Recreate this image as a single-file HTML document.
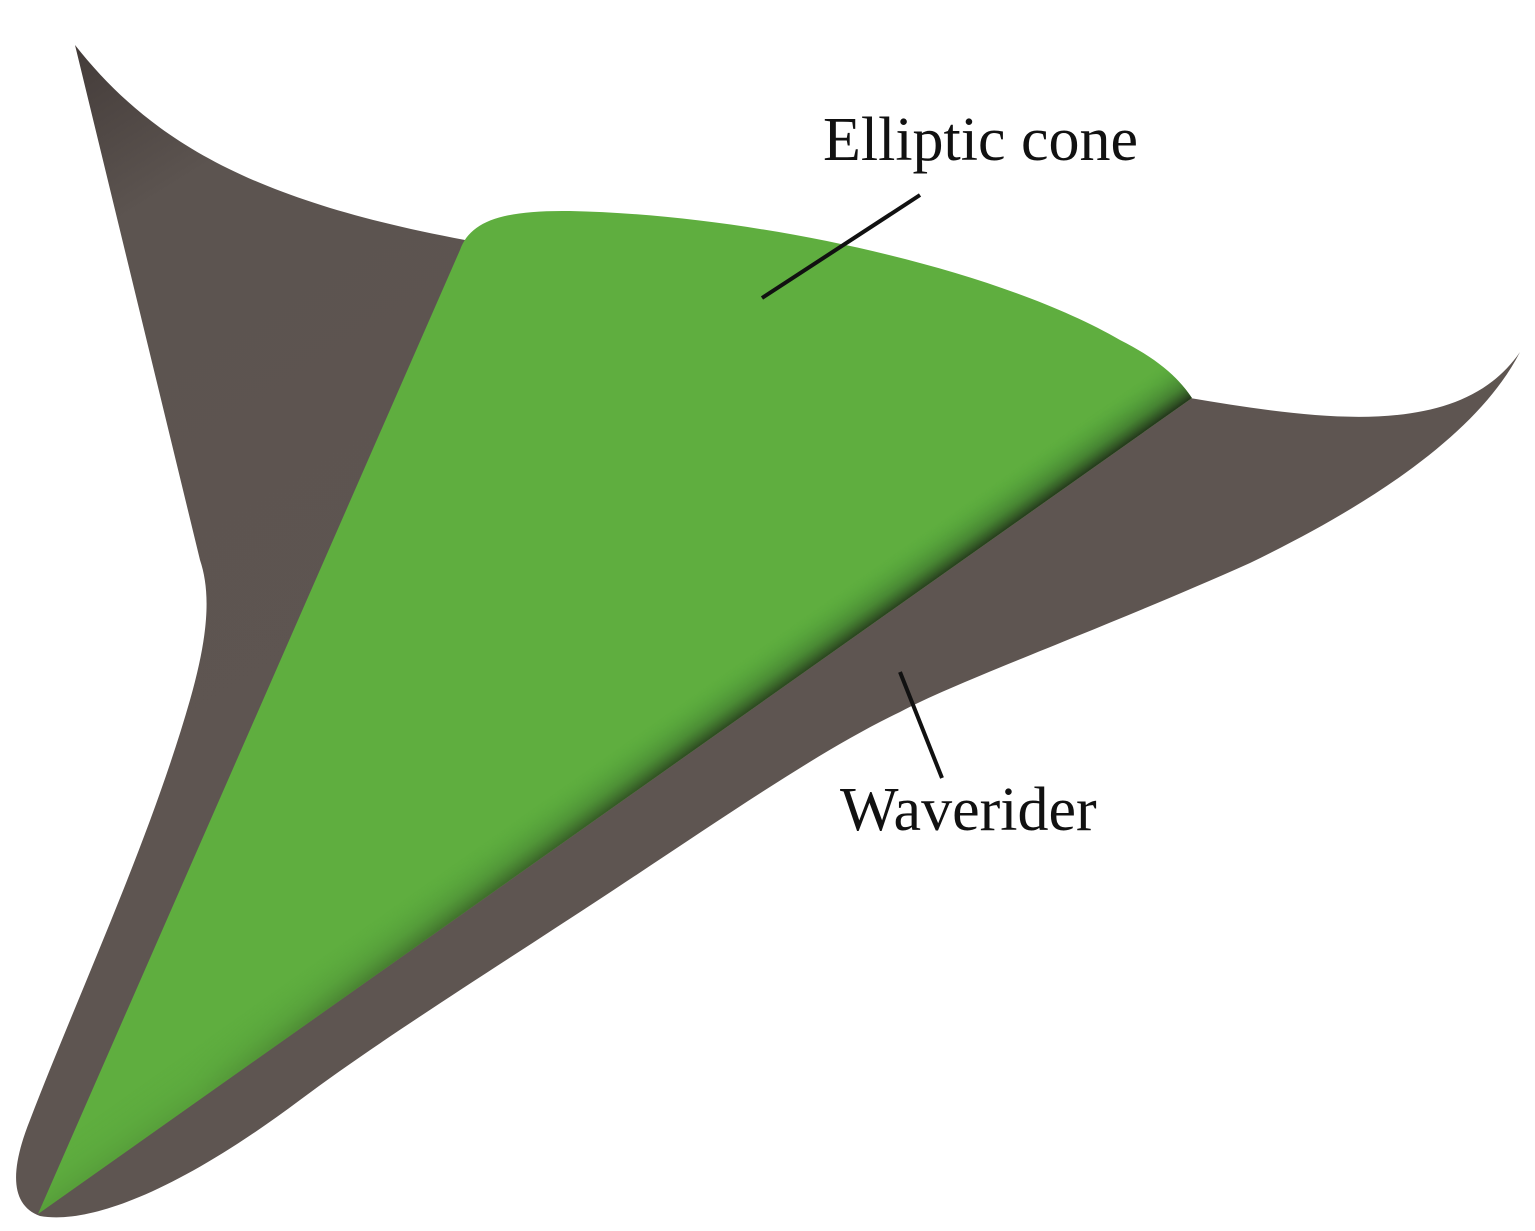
<!DOCTYPE html>
<html><head><meta charset="utf-8">
<style>html,body{margin:0;padding:0;background:#fff;width:1535px;height:1231px;overflow:hidden}</style>
</head><body>
<svg width="1535" height="1231" viewBox="0 0 1535 1231" xmlns="http://www.w3.org/2000/svg">
<defs>
<linearGradient id="gw" x1="0" y1="0" x2="0.4" y2="0.5">
<stop offset="0" stop-color="#3f3735"/><stop offset="0.25" stop-color="#5c5450"/><stop offset="1" stop-color="#5e5551"/>
</linearGradient>
<linearGradient id="across" gradientUnits="userSpaceOnUse" x1="900" y1="605" x2="874" y2="568">
<stop offset="0" stop-color="#1e2a18" stop-opacity="1"/>
<stop offset="0.35" stop-color="#3a6e2c" stop-opacity="0.7"/>
<stop offset="1" stop-color="#4fa83a" stop-opacity="0"/>
</linearGradient>
<linearGradient id="along" gradientUnits="userSpaceOnUse" x1="200" y1="1100" x2="1192" y2="398">
<stop offset="0" stop-color="#fff" stop-opacity="0.1"/>
<stop offset="0.5" stop-color="#fff" stop-opacity="0.75"/>
<stop offset="1" stop-color="#fff" stop-opacity="1"/>
</linearGradient>
<mask id="m"><rect width="1535" height="1231" fill="url(#along)"/></mask>
<clipPath id="cc"><path d="M38,1214 L460,250 C470,222 500,210 570,211 C760,215 1000,270 1120,340 C1160,360 1180,380 1192,398 Z"/></clipPath>
</defs>
<path fill="url(#gw)" d="M75,45 C150,140 250,200 465,240 L1190,398 C1320,420 1460,440 1520,352
C1480,430 1380,500 1250,563 C1100,630 960,680 900,712 C820,750 720,820 606,895
C492,970 380,1040 300,1100 C180,1190 90,1225 40,1216 C10,1205 10,1170 30,1120 C80,990 150,840 190,700
C210,630 210,590 200,560 Z"/>
<path fill="#5fae3f" d="M38,1214 L460,250 C470,222 500,210 570,211 C760,215 1000,270 1120,340
C1160,360 1180,380 1192,398 Z"/>
<g clip-path="url(#cc)" mask="url(#m)">
<polygon fill="url(#across)" points="38,1214 1192,398 1166,361 12,1177"/>
</g>
<line x1="920" y1="195" x2="762" y2="298" stroke="#111" stroke-width="4"/>
<line x1="900" y1="672" x2="942" y2="778" stroke="#111" stroke-width="4"/>
<text x="823" y="160" font-family="Liberation Serif, serif" font-size="62" fill="#111">Elliptic cone</text>
<text x="840" y="830" font-family="Liberation Serif, serif" font-size="62" fill="#111">Waverider</text>
</svg>
</body></html>
